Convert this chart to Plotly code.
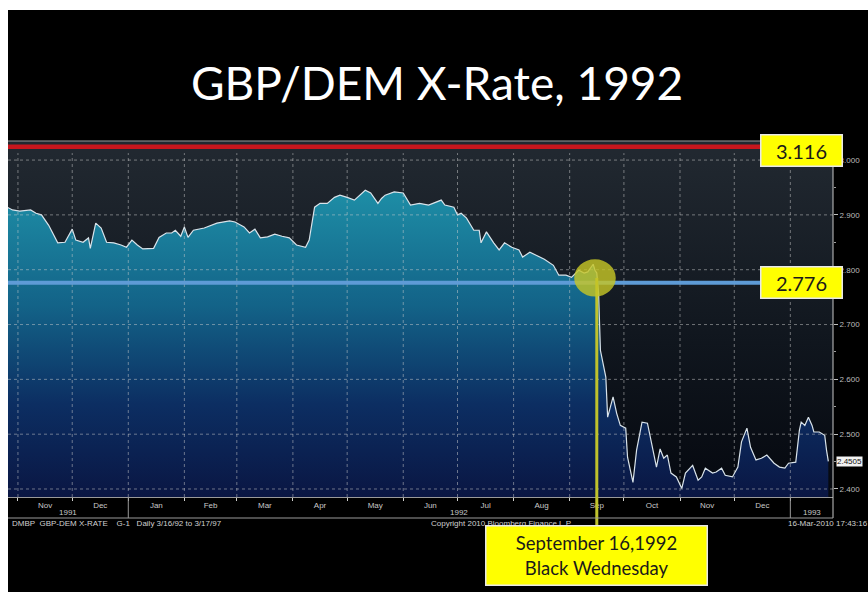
import pandas as pd
import plotly.graph_objects as go

# ---- data -------------------------------------------------------------
dates = [
    "1991-10-26", "1991-10-29", "1991-11-02", "1991-11-08", "1991-11-11", "1991-11-14",
    "1991-11-18", "1991-11-23", "1991-11-27", "1991-12-01", "1991-12-03", "1991-12-07",
    "1991-12-10", "1991-12-11", "1991-12-14", "1991-12-17", "1991-12-20", "1991-12-24",
    "1991-12-28", "1991-12-31", "1992-01-03", "1992-01-06", "1992-01-09", "1992-01-15",
    "1992-01-18", "1992-01-22", "1992-01-25", "1992-01-27", "1992-01-30", "1992-02-01",
    "1992-02-03", "1992-02-06", "1992-02-12", "1992-02-19", "1992-02-26", "1992-02-29",
    "1992-03-05", "1992-03-08", "1992-03-11", "1992-03-14", "1992-03-18", "1992-03-22",
    "1992-03-26", "1992-03-30", "1992-04-03", "1992-04-08", "1992-04-10", "1992-04-13",
    "1992-04-16", "1992-04-20", "1992-04-24", "1992-04-27", "1992-05-01", "1992-05-05",
    "1992-05-11", "1992-05-14", "1992-05-18", "1992-05-20", "1992-05-22", "1992-05-27",
    "1992-06-01", "1992-06-05", "1992-06-10", "1992-06-15", "1992-06-22", "1992-06-24",
    "1992-06-29", "1992-07-01", "1992-07-03", "1992-07-06", "1992-07-10", "1992-07-13",
    "1992-07-14", "1992-07-17", "1992-07-21", "1992-07-24", "1992-07-27", "1992-07-31",
    "1992-08-04", "1992-08-06", "1992-08-10", "1992-08-13", "1992-08-18", "1992-08-23",
    "1992-08-26", "1992-08-30", "1992-09-02", "1992-09-06", "1992-09-09", "1992-09-11",
    "1992-09-14", "1992-09-15", "1992-09-16", "1992-09-17", "1992-09-18", "1992-09-21",
    "1992-09-22", "1992-09-25", "1992-09-27", "1992-09-29", "1992-10-02", "1992-10-03",
    "1992-10-06", "1992-10-08", "1992-10-11", "1992-10-14", "1992-10-16", "1992-10-19",
    "1992-10-21", "1992-10-23", "1992-10-25", "1992-10-27", "1992-10-30", "1992-11-02",
    "1992-11-04", "1992-11-08", "1992-11-11", "1992-11-13", "1992-11-15", "1992-11-19",
    "1992-11-21", "1992-11-24", "1992-11-26", "1992-11-30", "1992-12-03", "1992-12-05",
    "1992-12-08", "1992-12-10", "1992-12-13", "1992-12-16", "1992-12-19", "1992-12-23",
    "1992-12-26", "1992-12-29", "1992-12-31", "1993-01-04", "1993-01-06", "1993-01-07",
    "1993-01-09", "1993-01-11", "1993-01-13", "1993-01-14", "1993-01-17", "1993-01-20",
    "1993-01-21", "1993-01-22",
]
rates = [
    2.914, 2.909, 2.907, 2.909, 2.903, 2.900,
    2.881, 2.849, 2.850, 2.874, 2.854, 2.850,
    2.858, 2.839, 2.885, 2.876, 2.850, 2.849,
    2.845, 2.841, 2.854, 2.845, 2.838, 2.839,
    2.859, 2.867, 2.867, 2.872, 2.861, 2.878,
    2.859, 2.872, 2.876, 2.885, 2.889, 2.887,
    2.878, 2.867, 2.874, 2.858, 2.860, 2.865,
    2.861, 2.858, 2.845, 2.841, 2.854, 2.914,
    2.921, 2.921, 2.932, 2.936, 2.932, 2.927,
    2.945, 2.940, 2.921, 2.930, 2.936, 2.942,
    2.940, 2.918, 2.921, 2.918, 2.927, 2.918,
    2.914, 2.900, 2.903, 2.894, 2.872, 2.872,
    2.849, 2.869, 2.849, 2.836, 2.849, 2.841,
    2.836, 2.823, 2.832, 2.827, 2.819, 2.808,
    2.790, 2.790, 2.786, 2.799, 2.794, 2.796,
    2.810, 2.799, 2.794, 2.757, 2.653, 2.604,
    2.531, 2.568, 2.538, 2.516, 2.511, 2.458,
    2.412, 2.471, 2.522, 2.520, 2.489, 2.440,
    2.473, 2.456, 2.462, 2.429, 2.422, 2.401,
    2.429, 2.443, 2.416, 2.422, 2.438, 2.429,
    2.431, 2.438, 2.425, 2.422, 2.440, 2.486,
    2.511, 2.476, 2.453, 2.456, 2.462, 2.447,
    2.440, 2.438, 2.447, 2.449, 2.507, 2.522,
    2.516, 2.531, 2.516, 2.504, 2.504, 2.498,
    2.471, 2.4505,
]

month_labels = ["Nov", "Dec", "Jan", "Feb", "Mar", "Apr", "May", "Jun",
                "Jul", "Aug", "Sep", "Oct", "Nov", "Dec"]
year_labels = ["1991", "1992", "1993"]
price_ticks = [2.4, 2.5, 2.6, 2.7, 2.8, 2.9, 3.0]

ERM_CEILING = 3.116
ERM_FLOOR = 2.776
EXIT_DATE = "1992-09-16"
EXIT_LABEL = "September 16,1992<br>Black Wednesday"
TITLE = "GBP/DEM X-Rate, 1992"
FOOTER_LEFT = "DMBP  GBP-DEM X-RATE    G-1   Daily 3/16/92 to 3/17/97"
FOOTER_MID = "Copyright 2010 Bloomberg Finance L.P."
FOOTER_RIGHT = "16-Mar-2010 17:43:16"

# ---- geometry ---------------------------------------------------------
W, H = 868, 592
ML, MR, MT, MB = 8, 29, 141, 95
PW, PH = W - ML - MR, H - MT - MB
X_START = pd.Timestamp("1991-10-26 12:00")
X_END = pd.Timestamp("1993-01-24 14:00")
Y_MIN, Y_MAX = 2.3854, 3.0127
MAIN_TOP = 0.966          # main price axis domain top; the strip above holds the ceiling
STRIP_RANGE = [3.100, 3.130]


def px_x(px):
    return (px - ML) / PW


def px_y(py):
    return (H - MB - py) / PH


def y_paper(v):
    return MAIN_TOP * (v - Y_MIN) / (Y_MAX - Y_MIN)


TXT = "Liberation Sans"
BOX_FONT = "Lato"

fig = go.Figure()

# dark plot background, fading towards the bottom
fig.add_trace(go.Scatter(
    x=[X_START, X_END], y=[Y_MAX, Y_MAX], mode="lines", line=dict(width=0),
    fill="tozeroy",
    fillgradient=dict(type="vertical", start=Y_MIN, stop=Y_MAX,
                      colorscale=[[0, "#05080f"], [0.45, "#10161e"], [1, "#212830"]]),
    hoverinfo="skip", showlegend=False,
))

# exchange rate area
fig.add_trace(go.Scatter(
    x=pd.to_datetime(dates), y=rates, mode="lines",
    line=dict(color="#d9e3ea", width=1.2),
    fill="tozeroy",
    fillgradient=dict(type="vertical", start=Y_MIN, stop=2.95,
                      colorscale=[[0, "#0a1643"], [0.3, "#0c2e62"], [0.62, "#136388"],
                                  [1, "#1e8fa7"]]),
    hoverinfo="skip", showlegend=False,
))

# ERM ceiling, shown in the broken-axis strip at the top
fig.add_trace(go.Scatter(
    x=[X_START, X_END], y=[ERM_CEILING, ERM_CEILING], mode="lines",
    line=dict(color="#c8161d", width=4.5), yaxis="y2",
    hoverinfo="skip", showlegend=False,
))

shapes = []
grid = dict(color="rgba(205,205,205,0.5)", width=1, dash="dot")

# vertical month gridlines
month_starts = pd.date_range("1991-11-01", "1993-01-01", freq="MS")
for d in month_starts:
    shapes.append(dict(type="line", xref="x", yref="paper", x0=d, x1=d,
                       y0=0, y1=MAIN_TOP, line=grid, layer="above"))
# horizontal price gridlines
for v in price_ticks:
    shapes.append(dict(type="line", xref="paper", yref="y", x0=0, x1=1,
                       y0=v, y1=v, line=grid, layer="above"))

# ERM floor
shapes.append(dict(type="line", xref="paper", yref="y", x0=0, x1=1,
                   y0=ERM_FLOOR, y1=ERM_FLOOR,
                   line=dict(color="#5e9bd6", width=4), layer="above"))

# Black Wednesday marker
exit_ts = pd.Timestamp(EXIT_DATE)
exit_rate = rates[dates.index(EXIT_DATE)]
cy = (exit_rate + ERM_FLOOR) / 2
shapes.append(dict(type="line", xref="x", yref="paper", x0=exit_ts, x1=exit_ts,
                   y0=px_y(525), y1=y_paper(cy),
                   line=dict(color="#bfc22c", width=3), layer="above"))
shapes.append(dict(type="circle", xref="x", yref="y",
                   x0=exit_ts - pd.Timedelta(days=12.5), x1=exit_ts + pd.Timedelta(days=10.5),
                   y0=cy - 0.034, y1=cy + 0.034,
                   fillcolor="rgba(196,196,38,0.82)", line=dict(width=0), layer="above"))

# frame: top border, right axis line, year row
frame = dict(color="#9a9a9a", width=1)
shapes.append(dict(type="line", xref="paper", yref="paper", x0=0, x1=1, y0=1, y1=1, line=frame))
shapes.append(dict(type="line", xref="paper", yref="paper", x0=1, x1=1,
                   y0=px_y(518), y1=1, line=dict(color="#c8c8c8", width=1)))
shapes.append(dict(type="line", xref="paper", yref="paper", x0=0, x1=1,
                   y0=px_y(518), y1=px_y(518), line=frame))
for yr in year_labels[1:]:
    d = pd.Timestamp(f"{yr}-01-01")
    shapes.append(dict(type="line", xref="x", yref="paper", x0=d, x1=d,
                       y0=px_y(518), y1=0, line=frame))

# white page margin around the dark slide
shapes.append(dict(type="rect", xref="paper", yref="paper", x0=-0.05, x1=0,
                   y0=-0.5, y1=1.6, fillcolor="white", line=dict(width=0), layer="below"))
shapes.append(dict(type="rect", xref="paper", yref="paper", x0=-0.05, x1=1.1,
                   y0=px_y(10), y1=1.6, fillcolor="white", line=dict(width=0), layer="below"))

annotations = []
annotations.append(dict(text=TITLE, xref="paper", yref="paper", x=px_x(440), y=px_y(82),
                        xanchor="center", yanchor="middle", showarrow=False,
                        font=dict(family="Lato", size=46, color="white")))

# year row labels centred on the visible part of each year
for yr in year_labels:
    a = max(X_START, pd.Timestamp(f"{yr}-01-01"))
    b = min(X_END, pd.Timestamp(f"{int(yr) + 1}-01-01"))
    annotations.append(dict(text=yr, xref="x", yref="paper", x=a + (b - a) / 2, y=px_y(512),
                            xanchor="center", yanchor="middle", showarrow=False,
                            font=dict(family=TXT, size=8, color="#c8c8c8")))

foot = dict(family=TXT, size=8, color="#d0d0d0")
annotations.append(dict(text=FOOTER_LEFT, xref="paper", yref="paper", x=px_x(10), y=px_y(523),
                        xanchor="left", yanchor="middle", showarrow=False, font=foot))
annotations.append(dict(text=FOOTER_MID, xref="paper", yref="paper", x=px_x(432), y=px_y(523),
                        xanchor="left", yanchor="middle", showarrow=False, font=foot))
annotations.append(dict(text=FOOTER_RIGHT, xref="paper", yref="paper", x=px_x(792), y=px_y(523),
                        xanchor="left", yanchor="middle", showarrow=False, font=foot))

# last price flag on the right axis
annotations.append(dict(text=f"{rates[-1]:.4f}", xref="paper", yref="y", x=1, y=rates[-1],
                        xanchor="left", yanchor="middle", xshift=3, showarrow=False,
                        bgcolor="#f2f2f2", borderpad=0,
                        font=dict(family=TXT, size=8, color="#111111")))

box = dict(bgcolor="#ffff00", bordercolor="#e8e8e8", borderwidth=1.5, borderpad=1,
           showarrow=False, xanchor="center", yanchor="middle")
annotations.append(dict(text=f"{ERM_CEILING:.3f}", xref="paper", yref="paper",
                        x=px_x(807), y=px_y(150), width=78, height=28,
                        font=dict(family=BOX_FONT, size=20, color="#1a1a1a"), **box))
annotations.append(dict(text=f"{ERM_FLOOR:.3f}", xref="paper", yref="y",
                        x=px_x(807), y=ERM_FLOOR, width=78, height=28,
                        font=dict(family=BOX_FONT, size=20, color="#1a1a1a"), **box))
annotations.append(dict(text=EXIT_LABEL, xref="x", yref="paper",
                        x=exit_ts, y=px_y(555.5), width=218, height=56,
                        font=dict(family=BOX_FONT, size=18.5, color="#1a1a1a"), **box))

# month labels centred in each month
month_mids = [m + (n - m) / 2 for m, n in zip(month_starts[:-1], month_starts[1:])]

fig.update_layout(
    width=W, height=H,
    margin=dict(l=ML, r=MR, t=MT, b=MB),
    paper_bgcolor="black",
    plot_bgcolor="#212830",
    showlegend=False,
    shapes=shapes,
    annotations=annotations,
    xaxis=dict(
        type="date", range=[X_START, X_END], showgrid=False, zeroline=False,
        tickmode="array", tickvals=month_mids, ticktext=month_labels, ticks="",
        tickfont=dict(family=TXT, size=8, color="#c8c8c8"), ticklabelstandoff=0,
        showline=True, linecolor="#9a9a9a", linewidth=1,
        minor=dict(tickmode="array", tickvals=list(month_starts), ticks="outside",
                   ticklen=3, tickcolor="#d0d0d0", showgrid=False),
        fixedrange=True,
    ),
    yaxis=dict(
        domain=[0, MAIN_TOP], range=[Y_MIN, Y_MAX], side="right",
        tickmode="array", tickvals=price_ticks, tickformat=".3f",
        ticks="outside", ticklen=4, tickcolor="#c0c0c0",
        tickfont=dict(family=TXT, size=8, color="#bdbdbd"),
        showgrid=False, zeroline=False, showline=False,
        minor=dict(dtick=0.05, tick0=2.4, ticks="outside", ticklen=2, tickcolor="#a0a0a0"),
        fixedrange=True,
    ),
    yaxis2=dict(
        domain=[MAIN_TOP, 1], range=STRIP_RANGE, anchor="x", visible=False, fixedrange=True,
    ),
)

fig.write_html("out.html")
